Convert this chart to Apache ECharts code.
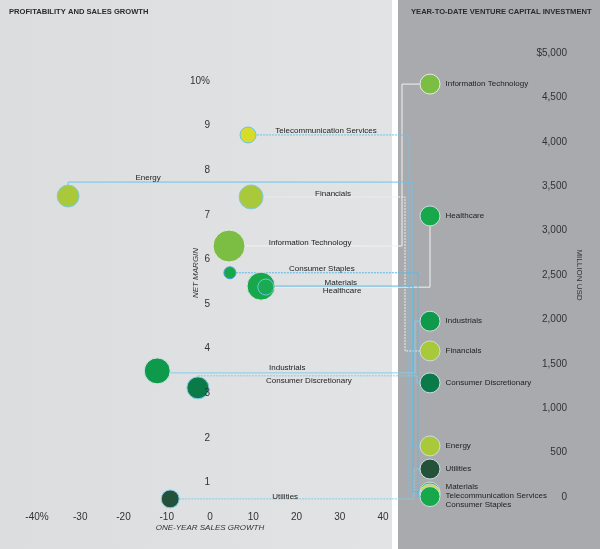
<!DOCTYPE html>
<html lang="en">
<head>
  <meta charset="UTF-8">
  <title>Profitability and sales growth</title>
  <style>
    html, body { margin: 0; padding: 0; background: #fff; }
    #main { width: 600px; height: 549px; }
  </style>
</head>
<body>
  <div id="main"></div>
  <script src="https://cdn.jsdelivr.net/npm/echarts@6/dist/echarts.min.js"></script>
  <script>
    // sectors, in drawing order (later ones sit on top where bubbles overlap)
    const sectors = ['Information Technology', 'Energy', 'Financials', 'Healthcare', 'Materials',
      'Telecommunication Services', 'Consumer Staples', 'Industrials', 'Consumer Discretionary', 'Utilities'];
    const salesGrowth = [4.4, -32.8, 9.5, 11.8, 12.9, 8.8, 4.6, -12.2, -2.8, -9.2];   // one-year sales growth, %
    const netMargin = [6.3, 7.42, 7.4, 5.4, 5.38, 8.79, 5.7, 3.5, 3.12, 0.63];         // net margin, %
    const bubbleWeight = [64, 30, 36, 49, 16, 16, 9, 42, 30, 20];                     // relative bubble size
    const ventureCapital = [4650, 575, 1645, 3165, 55, 35, 5, 1980, 1285, 315];        // YTD venture capital, million USD

    const FONT = 'Liberation Sans, Arial, sans-serif';

    // look of each sector: colours, connector routing, label offsets
    const look = {
      'Information Technology':     { color: '#7cbd43', border: '#e8e8e8', line: '#f2f2f2', elbow: 402, dy: 0,   label: [81, -3] },
      'Energy':                     { color: '#a9c93b', border: '#7fcbe6', line: '#6cc3e8', elbow: 412, dy: -14, label: [80, -18] },
      'Financials':                 { color: '#a9c93b', border: '#7fcbe6', line: '#eeeeee', elbow: 405, dy: 0,   label: [82, -3], dash: true },
      'Healthcare':                 { color: '#17a84c', border: '#e0e0e0', line: '#f2f2f2', elbow: null, dy: 1,  label: [81, 5] },
      'Materials':                  { color: '#1aaa52', border: '#6ec3e6', line: '#5ab8e4', elbow: 413, dy: -1,  label: [75, -4], rLabel: [0, -5] },
      'Telecommunication Services': { color: '#d7db2a', border: '#6ec3e6', line: '#6cc3e8', elbow: 409, dy: 0,   label: [78, -4], rLabel: [0, 2], dash: true },
      'Consumer Staples':           { color: '#18a84c', border: '#3f9fd0', line: '#5ab8e4', elbow: 418, dy: 0,   label: [92, -4], rLabel: [0, 8], dash: true },
      'Industrials':                { color: '#0e9a4a', border: '#cfe3e8', line: '#86cdea', elbow: 415, dy: 2,   label: [130, -3] },
      'Consumer Discretionary':     { color: '#0a7a48', border: '#7fcbe6', line: '#86cdea', elbow: 417, dy: -12, label: [111, -7], dash: true },
      'Utilities':                  { color: '#24513a', border: '#7fcbe6', line: '#86cdea', elbow: 414, dy: 0,   label: [115, -2], dash: true, dots: true }
    };

    // small dotted texture for the utilities bubbles
    function dotPattern(base) {
      const c = document.createElement('canvas');
      c.width = 3; c.height = 3;
      const g = c.getContext('2d');
      g.fillStyle = base; g.fillRect(0, 0, 3, 3);
      g.fillStyle = '#0d1f16'; g.fillRect(1, 1, 1, 1);
      return { image: c, repeat: 'repeat' };
    }

    const fillOf = s => look[s].dots ? dotPattern(look[s].color) : look[s].color;

    const chart = echarts.init(document.getElementById('main'));

    const leftData = sectors.map((s, i) => ({
      name: s,
      value: [salesGrowth[i], netMargin[i], bubbleWeight[i]],
      itemStyle: { color: fillOf(s), borderColor: look[s].border, borderWidth: 1 },
      label: { offset: look[s].label }
    }));

    const rightData = sectors.map((s, i) => ({
      name: s,
      value: [0, ventureCapital[i]],
      itemStyle: { color: fillOf(s), borderColor: look[s].border === '#e8e8e8' ? '#e8e8e8' : '#c9dde3', borderWidth: 1 },
      label: { offset: look[s].rLabel || [0, 0] }
    }));

    const thousands = v => String(v).replace(/\B(?=(\d{3})+(?!\d))/g, ',');

    const option = {
      animation: false,
      title: [
        { text: 'PROFITABILITY AND SALES GROWTH', left: 4, top: 3,
          textStyle: { fontFamily: FONT, fontSize: 7.6, fontWeight: 'bold', color: '#2b2b2b' } },
        { text: 'YEAR-TO-DATE VENTURE CAPITAL INVESTMENT', left: 406, top: 3,
          textStyle: { fontFamily: FONT, fontSize: 7.6, fontWeight: 'bold', color: '#2b2b2b' } }
      ],
      grid: [
        { left: 37, right: 217, top: 81, bottom: 22 },
        { left: 430, right: 32, top: 53, bottom: 52 }
      ],
      xAxis: [
        {
          gridIndex: 0, type: 'value', min: -40, max: 40, interval: 10,
          axisLine: { show: false }, axisTick: { show: false }, splitLine: { show: false },
          axisLabel: {
            margin: -15, fontFamily: FONT, fontSize: 10, color: '#333',
            formatter: v => v === -40 ? '-40%' : String(v)
          },
          name: 'ONE-YEAR SALES GROWTH', nameLocation: 'middle', nameGap: -3, nameMoveOverlap: false,
          nameTextStyle: { fontFamily: FONT, fontSize: 8, fontStyle: 'italic', color: '#333' }
        },
        {
          gridIndex: 1, type: 'value', min: 0, max: 1, show: false
        }
      ],
      yAxis: [
        {
          // labels sit on the zero line of the sales-growth axis, above the bubbles
          gridIndex: 0, type: 'value', min: 0, max: 10, interval: 1, position: 'left', offset: -173, z: 5,
          axisLine: { show: false, onZero: false }, axisTick: { show: false }, splitLine: { show: false },
          axisLabel: {
            margin: 0, fontFamily: FONT, fontSize: 10, color: '#333',
            formatter: v => v === 0 ? '' : (v === 10 ? '10%' : String(v))
          }
        },
        {
          gridIndex: 1, type: 'value', min: 0, max: 5000, interval: 500, position: 'right',
          axisLine: { show: false, onZero: false }, axisTick: { show: false }, splitLine: { show: false },
          axisLabel: {
            inside: true, margin: 1, fontFamily: FONT, fontSize: 10, color: '#333',
            formatter: v => v === 5000 ? '$' + thousands(v) : thousands(v)
          },
          name: 'MILLION USD', nameLocation: 'middle', nameRotate: -90, nameGap: 7,
          nameTextStyle: { fontFamily: FONT, fontSize: 8, color: '#333' }
        }
      ],
      series: [
        {
          type: 'scatter', xAxisIndex: 0, yAxisIndex: 0, clip: false,
          symbolSize: v => 4 * Math.sqrt(v[2]),
          data: leftData,
          itemStyle: { opacity: 1 },
          label: { show: true, position: 'inside', formatter: '{b}', fontFamily: FONT, fontSize: 8, color: '#222' }
        },
        {
          type: 'scatter', xAxisIndex: 1, yAxisIndex: 1, clip: false,
          symbolSize: 20,
          data: rightData,
          itemStyle: { opacity: 1 },
          label: { show: true, position: 'right', distance: 5, formatter: '{b}', fontFamily: FONT, fontSize: 8, color: '#222' }
        }
      ]
    };
    chart.setOption(option);

    // backgrounds, connector lines and the rotated margin title
    const backgrounds = [
      { type: 'rect', z: -1, silent: true, shape: { x: 0, y: 0, width: 392, height: 549 },
        style: { fill: new echarts.graphic.LinearGradient(0, 0, 1, 0, [
          { offset: 0, color: '#dcdddf' }, { offset: 1, color: '#e2e3e5' }]) } },
      { type: 'rect', z: -1, silent: true, shape: { x: 398, y: 0, width: 202, height: 549 },
        style: { fill: '#a9aaad' } }
    ];

    const connectors = sectors.map((s, i) => {
      const a = chart.convertToPixel({ seriesIndex: 0 }, [salesGrowth[i], netMargin[i]]);
      const b = chart.convertToPixel({ seriesIndex: 1 }, [0, ventureCapital[i]]);
      const st = look[s];
      const y0 = a[1] + st.dy;
      const ex = st.elbow == null ? b[0] : st.elbow;
      return {
        type: 'polyline', z: 1, silent: true,
        shape: { points: [[a[0], a[1]], [a[0], y0], [ex, y0], [ex, b[1]], [b[0], b[1]]] },
        style: { stroke: st.line, lineWidth: 1, fill: null, lineDash: st.dash ? [2, 1] : null }
      };
    });

    const marginTitle = {
      type: 'text', z: 3, silent: true, x: 196, y: 273, rotation: Math.PI / 2,
      style: { text: 'NET MARGIN', font: 'italic 8px ' + FONT, fill: '#333',
        textAlign: 'center', textVerticalAlign: 'middle', align: 'center', verticalAlign: 'middle' }
    };

    chart.setOption({ graphic: backgrounds.concat(connectors, [marginTitle]) });
  </script>
</body>
</html>
